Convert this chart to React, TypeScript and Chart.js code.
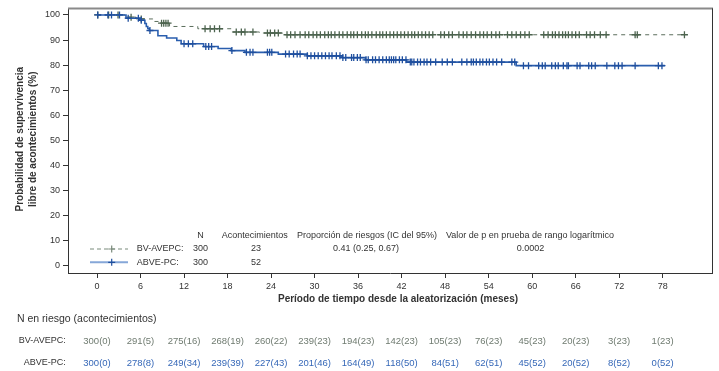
import React, { useEffect, useRef } from 'react';
import { Chart, registerables } from 'chart.js';

Chart.register(...registerables);

// ---------- data ----------
const xTicks = [0, 6, 12, 18, 24, 30, 36, 42, 48, 54, 60, 66, 72, 78];
const yTicks = [0, 10, 20, 30, 40, 50, 60, 70, 80, 90, 100];

const seriesNames = ['BV-AVEPC:', 'ABVE-PC:'];
const seriesN = [300, 300];
const seriesEvents = [23, 52];
const hazardRatio = '0.41 (0.25, 0.67)';
const pValue = '0.0002';

// BV-AVEPC Kaplan-Meier step curve (months, % event-free)
const bvTimes = [0, 4.1, 5.4, 7.7, 8.7, 10.0, 13.9, 18.5, 22.4, 25.6, 81.1];
const bvSurv = [100, 99.1, 98.4, 97.4, 96.7, 95.4, 94.5, 93.2, 92.8, 92.1, 92.1];
const bvCensor = [
  0.1, 1.6, 2.9, 4.7, 6.1, 8.9, 9.2, 9.5, 9.8, 14.9, 15.6, 16.2, 16.9, 19.2, 19.9, 20.4, 21.5,
  23.5, 23.9, 24.5, 25.0, 26.2, 26.7, 27.3, 28.0, 28.7, 29.2, 29.8, 30.3, 30.8, 31.4, 31.9,
  32.3, 32.8, 33.4, 33.9, 34.5, 35.0, 35.4, 35.9, 36.5, 37.0, 37.4, 37.9, 38.5, 39.0, 39.4,
  39.9, 40.4, 40.9, 41.4, 41.9, 42.4, 42.9, 43.4, 43.8, 44.3, 44.8, 45.3, 45.8, 46.3, 47.4,
  47.9, 48.5, 49.0, 49.9, 50.5, 51.0, 51.6, 52.2, 52.8, 53.3, 53.8, 54.4, 55.0, 55.5, 56.6,
  57.2, 57.8, 58.4, 59.0, 59.6, 61.6, 62.2, 62.8, 63.2, 63.7, 64.2, 64.6, 65.0, 65.5, 66.0,
  66.5, 67.5, 68.0, 68.6, 69.4, 70.2, 74.2, 74.5, 81.0,
];

// ABVE-PC Kaplan-Meier step curve
const abveTimes = [0, 4.0, 5.9, 6.6, 6.8, 7.0, 7.2, 8.4, 9.6, 11.0, 11.6, 14.7, 16.7, 18.5, 20.4, 25.0, 29.0, 33.8, 37.0, 42.7, 57.8, 78.3];
const abveSurv = [100, 98.7, 97.9, 96.6, 95.4, 94.6, 93.8, 91.7, 90.8, 89.8, 88.5, 87.4, 86.6, 85.8, 85.1, 84.4, 83.7, 83.0, 82.1, 81.2, 79.8, 79.8];
const abveCensor = [
  0.1, 1.5, 2.0, 3.1, 4.3, 5.7, 6.1, 7.3, 12.0, 12.6, 13.2, 15.0, 15.4, 15.8, 18.6, 20.6, 21.1,
  21.5, 23.5, 23.8, 24.1, 26.0, 26.5, 27.1, 27.6, 28.0, 29.0, 29.5, 30.0, 30.5, 31.0, 31.5,
  32.0, 32.4, 33.0, 33.5, 33.9, 34.3, 35.1, 35.4, 35.9, 36.3, 37.1, 37.4, 38.0, 38.4, 38.9,
  39.4, 39.9, 40.3, 40.6, 40.9, 41.2, 41.7, 42.1, 42.6, 43.2, 43.4, 43.7, 44.2, 44.6, 45.1,
  45.5, 46.0, 46.7, 47.6, 48.3, 49.0, 50.3, 51.0, 51.6, 51.9, 52.3, 52.8, 53.2, 53.7, 54.1,
  54.6, 55.1, 55.8, 57.2, 57.6, 58.8, 59.5, 60.9, 61.4, 61.8, 62.7, 63.2, 63.6, 64.3, 64.8,
  65.0, 66.2, 66.6, 67.8, 68.2, 68.7, 70.3, 71.4, 71.9, 72.4, 74.2, 77.4, 77.9,
];

// Numbers at risk (events) at each x tick
const bvRisk = [300, 291, 275, 268, 260, 239, 194, 142, 105, 76, 45, 20, 3, 1];
const bvRiskEvents = [0, 5, 16, 19, 22, 23, 23, 23, 23, 23, 23, 23, 23, 23];
const abveRisk = [300, 278, 249, 239, 227, 201, 164, 118, 84, 62, 45, 20, 8, 0];
const abveRiskEvents = [0, 8, 34, 39, 43, 46, 49, 50, 51, 51, 52, 52, 52, 52];

const yTitle = ['Probabilidad de supervivencia', 'libre de acontecimientos (%)'];
const xTitle = 'Período de tiempo desde la aleatorización (meses)';
const riskTitle = 'N en riesgo (acontecimientos)';
const legendHeaders = ['N', 'Acontecimientos', 'Proporción de riesgos (IC del 95%)', 'Valor de p en prueba de rango logarítmico'];

// ---------- styles ----------
const FONT = "'Liberation Sans', Arial, sans-serif";
const GREY = '#5b6e5c';
const GREY_MARK = '#4c634e';
const GREY_LIGHT = '#a7b2a8';
const BLUE = '#2a5eae';
const BLUE_MARK = '#1f4f9e';
const BLUE_LIGHT = '#86a7d8';
const TEXT = '#333333';

function stepValue(times: number[], surv: number[], t: number): number {
  let v = surv[0];
  for (let i = 0; i < times.length; i++) {
    if (times[i] <= t) v = surv[i];
  }
  return v;
}

const curve = (times: number[], surv: number[]) => times.map((t, i) => ({ x: t, y: surv[i] }));
const marks = (c: number[], times: number[], surv: number[]) => c.map((t) => ({ x: t, y: stepValue(times, surv, t) }));

function drawCross(ctx: CanvasRenderingContext2D, x: number, y: number, r: number, color: string) {
  ctx.strokeStyle = color;
  ctx.lineWidth = 1.2;
  ctx.beginPath();
  ctx.moveTo(x - r, y);
  ctx.lineTo(x + r, y);
  ctx.moveTo(x, y - r);
  ctx.lineTo(x, y + r);
  ctx.stroke();
}

const overlayPlugin = {
  id: 'overlay',
  afterDraw(chart: any) {
    const { ctx, chartArea: a, scales } = chart;
    const xs = scales.x;
    ctx.save();

    // frame: top and right
    ctx.strokeStyle = '#8a8a8a';
    ctx.lineWidth = 2;
    ctx.beginPath();
    ctx.moveTo(a.left, a.top);
    ctx.lineTo(a.right + 1, a.top);
    ctx.stroke();
    ctx.strokeStyle = TEXT;
    ctx.lineWidth = 1;
    ctx.beginPath();
    ctx.moveTo(a.right + 0.5, a.top);
    ctx.lineTo(a.right + 0.5, a.bottom);
    ctx.stroke();

    // y title
    ctx.fillStyle = TEXT;
    ctx.font = `bold 10px ${FONT}`;
    ctx.textAlign = 'center';
    ctx.textBaseline = 'middle';
    const yc = (a.top + a.bottom) / 2 - 1.5;
    [20.7, 33.3].forEach((xp, i) => {
      ctx.save();
      ctx.translate(xp, yc);
      ctx.rotate(-Math.PI / 2);
      ctx.fillText(yTitle[i], 0, 0);
      ctx.restore();
    });

    // x title
    ctx.fillText(xTitle, 398, 299.5);

    // in-plot legend table
    ctx.font = `9px ${FONT}`;
    ctx.fillStyle = TEXT;
    ctx.textAlign = 'center';
    ctx.fillText(legendHeaders[0], 200.5, 236);
    ctx.fillText(legendHeaders[1], 254.7, 236);
    ctx.textAlign = 'left';
    ctx.fillText(legendHeaders[2], 297, 236);
    ctx.fillText(legendHeaders[3], 446, 236);

    const rows = [249, 262.3];
    // sample lines
    ctx.save();
    ctx.strokeStyle = GREY_LIGHT;
    ctx.lineWidth = 1.5;
    ctx.setLineDash([4, 3]);
    ctx.beginPath();
    ctx.moveTo(90, rows[0]);
    ctx.lineTo(128, rows[0]);
    ctx.stroke();
    ctx.restore();
    drawCross(ctx, 111.7, rows[0], 3.5, '#7a8a7b');
    ctx.strokeStyle = BLUE_LIGHT;
    ctx.lineWidth = 2;
    ctx.beginPath();
    ctx.moveTo(90, rows[1]);
    ctx.lineTo(128, rows[1]);
    ctx.stroke();
    drawCross(ctx, 111.7, rows[1], 3.5, BLUE_MARK);

    ctx.fillStyle = TEXT;
    rows.forEach((ry, i) => {
      ctx.textAlign = 'left';
      ctx.fillText(seriesNames[i], 136.7, ry);
      ctx.textAlign = 'center';
      ctx.fillText(String(seriesN[i]), 200.5, ry);
      ctx.fillText(String(seriesEvents[i]), 256, ry);
    });
    ctx.fillText(hazardRatio, 366, rows[0]);
    ctx.fillText(pValue, 530.5, rows[0]);

    // risk table
    ctx.textAlign = 'left';
    ctx.font = `10.5px ${FONT}`;
    ctx.fillText(riskTitle, 17, 319);
    ctx.font = `9px ${FONT}`;
    ctx.textAlign = 'right';
    ctx.fillText(seriesNames[0], 65.7, 341);
    ctx.fillText(seriesNames[1], 65.7, 363);
    ctx.font = `9.5px ${FONT}`;
    ctx.textAlign = 'center';
    xTicks.forEach((t, i) => {
      const px = xs.getPixelForValue(t);
      ctx.fillStyle = '#6f7b70';
      ctx.fillText(`${bvRisk[i]}(${bvRiskEvents[i]})`, px, 341);
      ctx.fillStyle = '#3668b8';
      ctx.fillText(`${abveRisk[i]}(${abveRiskEvents[i]})`, px, 363);
    });

    ctx.restore();
  },
};

export default function App() {
  const ref = useRef<HTMLCanvasElement>(null);

  useEffect(() => {
    document.body.style.margin = '0';
    const canvas = ref.current;
    if (!canvas) return;
    const chart = new Chart(canvas, {
      type: 'line',
      data: {
        datasets: [
          {
            label: 'ABVE-PC censor',
            data: marks(abveCensor, abveTimes, abveSurv),
            showLine: false,
            pointStyle: 'cross',
            pointRadius: 3.5,
            pointBorderWidth: 1.3,
            pointBorderColor: BLUE_MARK,
            pointBackgroundColor: BLUE_MARK,
          },
          {
            label: 'ABVE-PC',
            data: curve(abveTimes, abveSurv),
            borderColor: BLUE,
            borderWidth: 1.6,
            stepped: true,
            pointRadius: 0,
            fill: false,
          },
          {
            label: 'BV-AVEPC censor',
            data: marks(bvCensor, bvTimes, bvSurv),
            showLine: false,
            pointStyle: 'cross',
            pointRadius: 3.5,
            pointBorderWidth: 1.3,
            pointBorderColor: GREY_MARK,
            pointBackgroundColor: GREY_MARK,
          },
          {
            label: 'BV-AVEPC',
            data: curve(bvTimes, bvSurv),
            borderColor: GREY,
            borderWidth: 1,
            borderDash: [4, 4],
            stepped: true,
            pointRadius: 0,
            fill: false,
          },
        ],
      },
      options: {
        animation: false,
        responsive: false,
        events: [],
        layout: { padding: { left: 0, right: 7, top: 5, bottom: 78 } },
        plugins: {
          legend: { display: false },
          tooltip: { enabled: false },
          title: { display: false },
        },
        scales: {
          x: {
            type: 'linear',
            min: -4,
            max: 84.8,
            afterFit: (axis: any) => {
              axis.height = 20;
            },
            afterBuildTicks: (axis: any) => {
              axis.ticks = xTicks.map((v) => ({ value: v }));
            },
            grid: { drawOnChartArea: false, drawTicks: true, tickLength: 5, color: TEXT },
            border: { display: true, color: TEXT, width: 1 },
            ticks: { color: TEXT, font: { family: FONT, size: 9 }, padding: 3, maxRotation: 0, autoSkip: false },
          },
          y: {
            type: 'linear',
            min: -2.8,
            max: 102.6,
            afterFit: (axis: any) => {
              axis.width = 68;
            },
            afterBuildTicks: (axis: any) => {
              axis.ticks = yTicks.map((v) => ({ value: v }));
            },
            grid: { drawOnChartArea: false, drawTicks: true, tickLength: 5, color: TEXT },
            border: { display: true, color: TEXT, width: 1 },
            ticks: { color: TEXT, font: { family: FONT, size: 9 }, padding: 3, autoSkip: false },
          },
        },
      },
      plugins: [overlayPlugin],
    });
    return () => chart.destroy();
  }, []);

  return (
    <div style={{ width: 719, height: 371 }}>
      <canvas ref={ref} width={719} height={371} style={{ display: 'block' }} />
    </div>
  );
}
